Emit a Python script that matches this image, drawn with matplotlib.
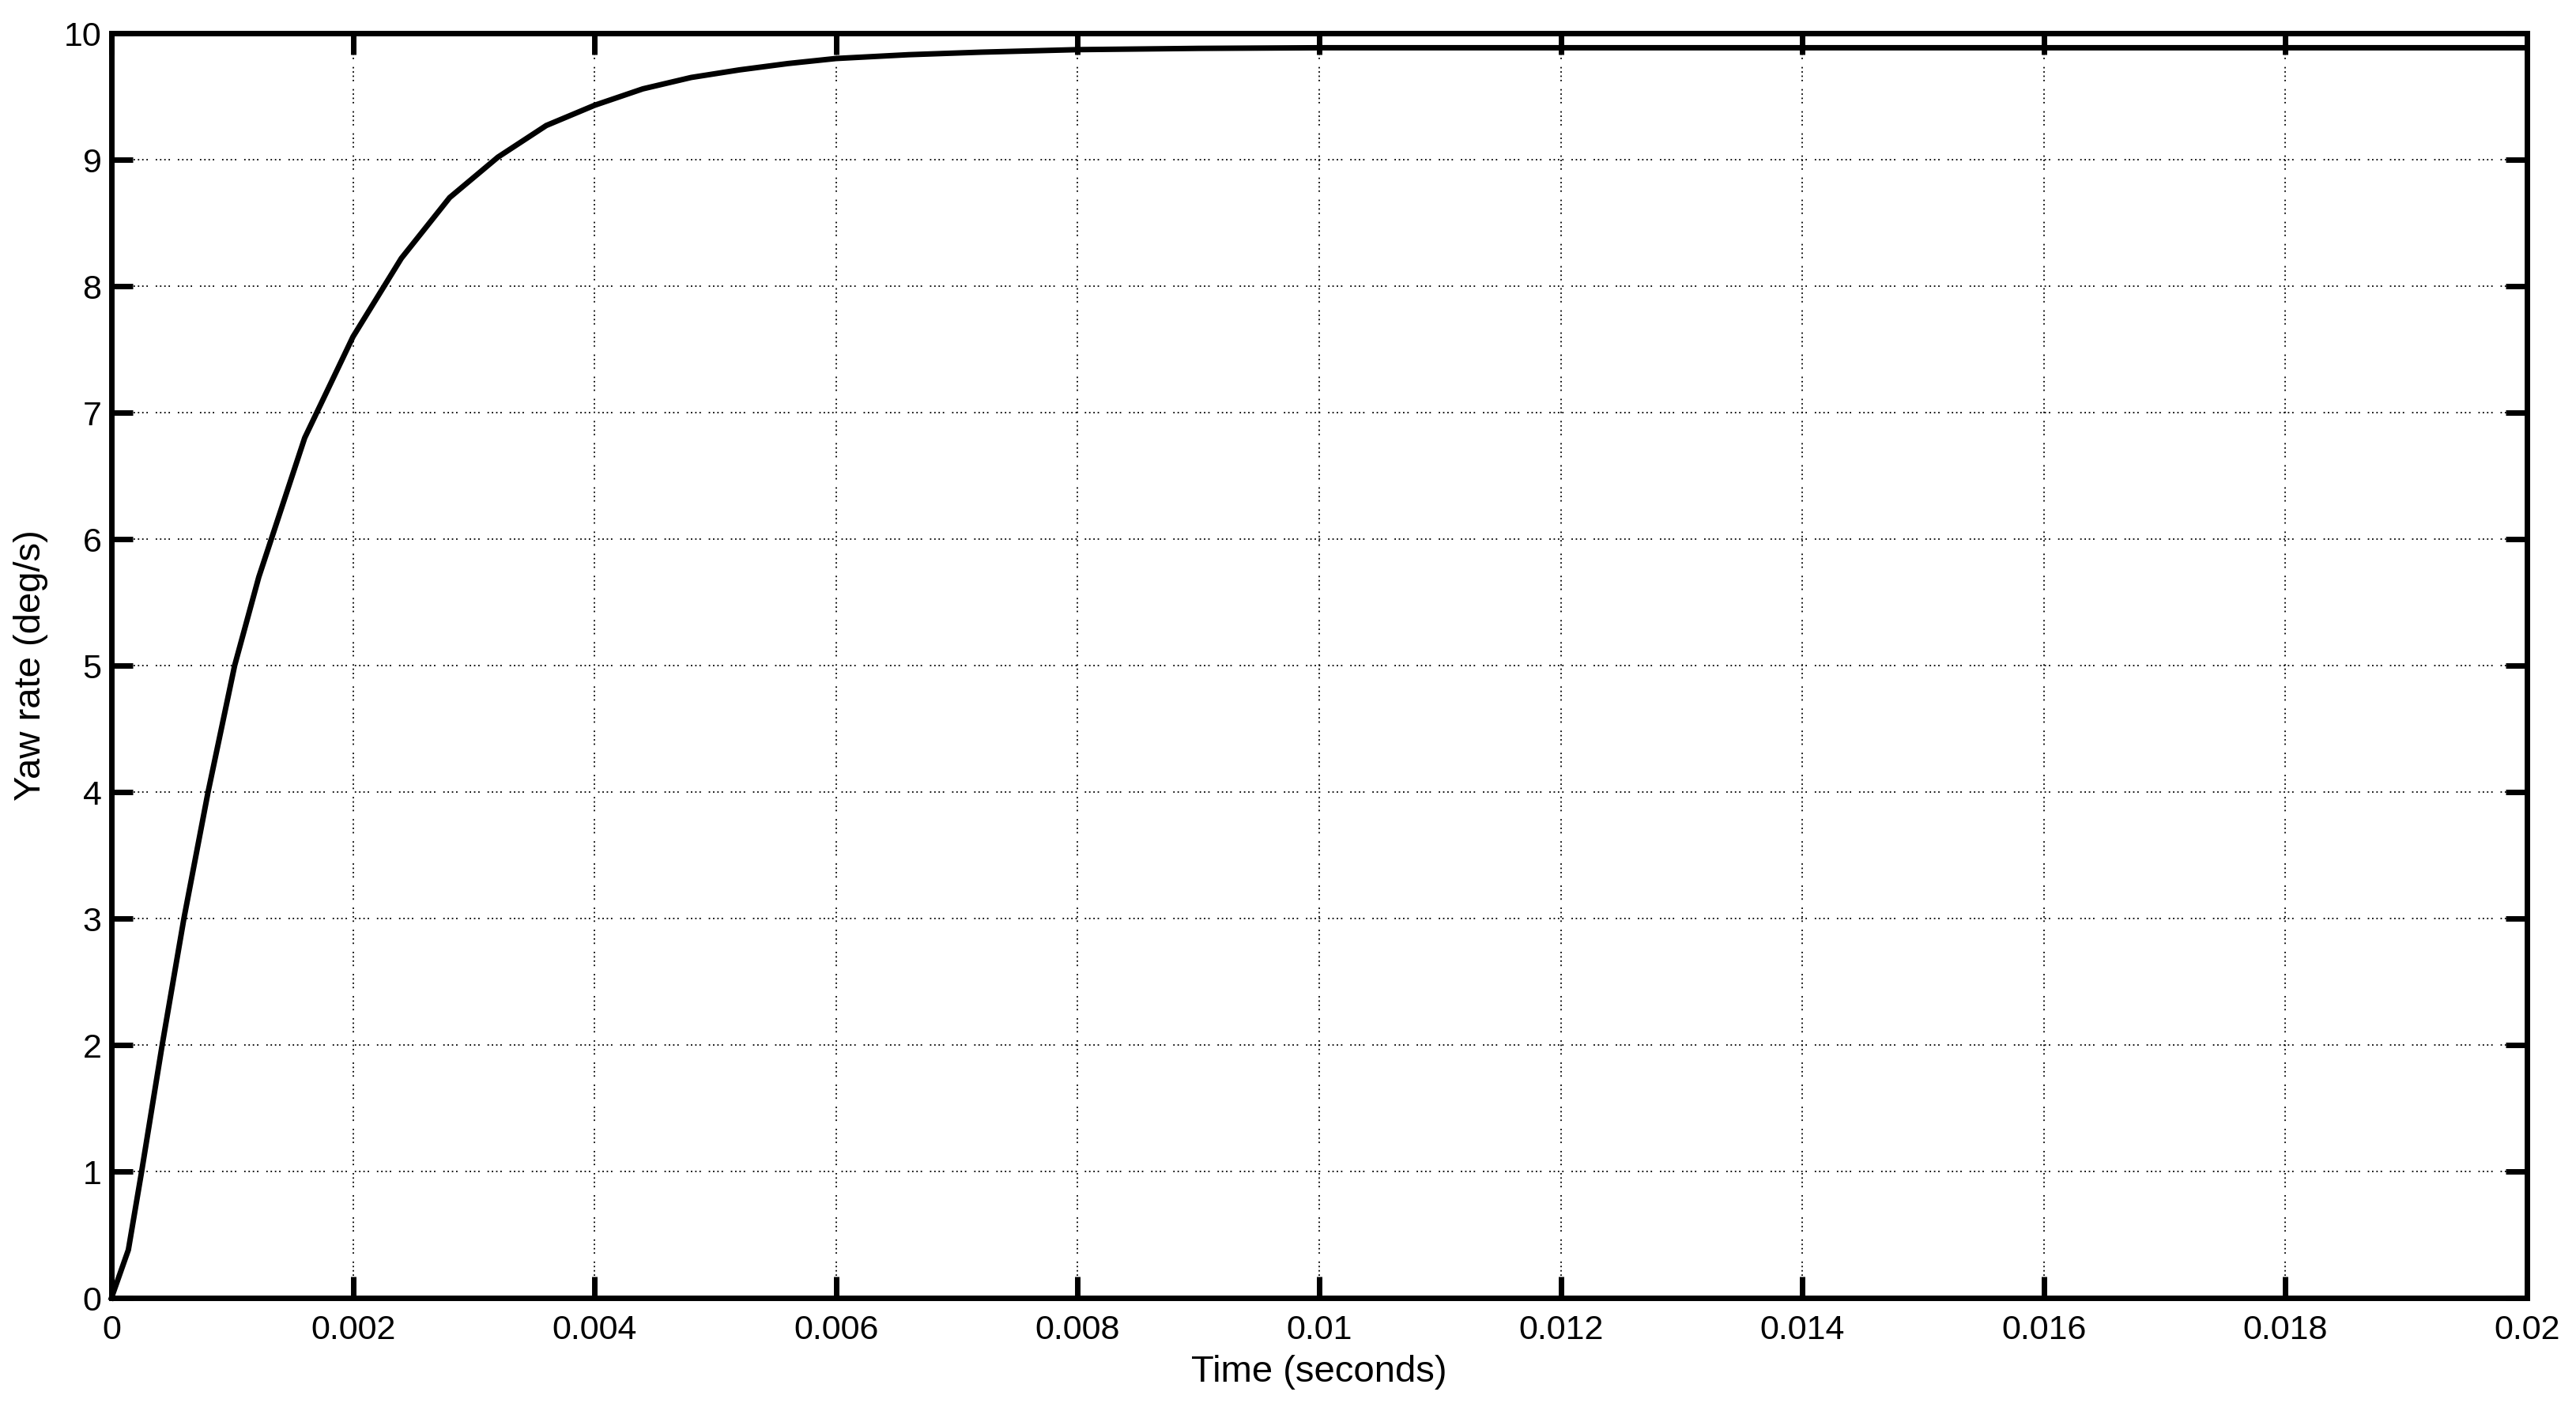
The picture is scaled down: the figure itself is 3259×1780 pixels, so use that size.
import matplotlib
matplotlib.use("Agg")
import matplotlib.pyplot as plt
import numpy as np

# Data (time in seconds, yaw rate in deg/s)
time_s = [0.0, 0.00014, 0.00025, 0.00042, 0.0006, 0.0008, 0.00102, 0.00122,
          0.0016, 0.002, 0.0024, 0.0028, 0.0032, 0.0036, 0.004, 0.0044,
          0.0048, 0.0052, 0.0056, 0.006, 0.0066, 0.0072, 0.008, 0.009,
          0.01, 0.012, 0.014, 0.016, 0.018, 0.02]
yaw_rate = [0.0, 0.38, 1.0, 2.0, 3.0, 4.0, 5.0, 5.7,
            6.8, 7.6, 8.22, 8.7, 9.02, 9.27, 9.43, 9.56,
            9.65, 9.71, 9.76, 9.80, 9.83, 9.85, 9.87, 9.88,
            9.885, 9.885, 9.885, 9.885, 9.885, 9.885]

x_ticks = [0, 0.002, 0.004, 0.006, 0.008, 0.01, 0.012, 0.014, 0.016, 0.018, 0.02]
x_tick_labels = ["0", "0.002", "0.004", "0.006", "0.008", "0.01", "0.012",
                 "0.014", "0.016", "0.018", "0.02"]
y_ticks = [0, 1, 2, 3, 4, 5, 6, 7, 8, 9, 10]
y_tick_labels = [str(v) for v in y_ticks]

x_label = "Time (seconds)"
y_label = "Yaw rate (deg/s)"

plt.rcParams['font.family'] = ['Liberation Sans', 'DejaVu Sans']

W, H = 3259, 1780
fig = plt.figure(figsize=(W / 100, H / 100), dpi=100)
left, right, top, bottom = 141, 3197, 42, 1642
ax = fig.add_axes([left / W, 1 - bottom / H, (right - left) / W, (bottom - top) / H])

ax.plot(time_s, yaw_rate, color='black', linewidth=5.0, solid_joinstyle='miter',
        zorder=3, clip_on=False)

ax.set_xlim(0, 0.02)
ax.set_ylim(0, 10)
ax.set_xticks(x_ticks)
ax.set_xticklabels(x_tick_labels)
ax.set_yticks(y_ticks)
ax.set_yticklabels(y_tick_labels)

ax.grid(True, color='black', linewidth=1.3,
        linestyle=(0, (1, 2.0, 1, 2.0, 1, 2.0, 1, 5.5)))
ax.set_axisbelow(True)

for s in ax.spines.values():
    s.set_linewidth(5.0)
    s.set_color('black')

ax.tick_params(axis='both', which='major', direction='in', length=19.5, width=5.0,
               top=True, right=True, labelsize=31, colors='black')
ax.tick_params(axis='x', pad=15)
ax.tick_params(axis='y', pad=9)

ax.set_xlabel(x_label, fontsize=34, labelpad=8)
ax.set_ylabel(y_label, fontsize=34, labelpad=14)

fig.savefig("out.png", dpi=100, facecolor='white')
